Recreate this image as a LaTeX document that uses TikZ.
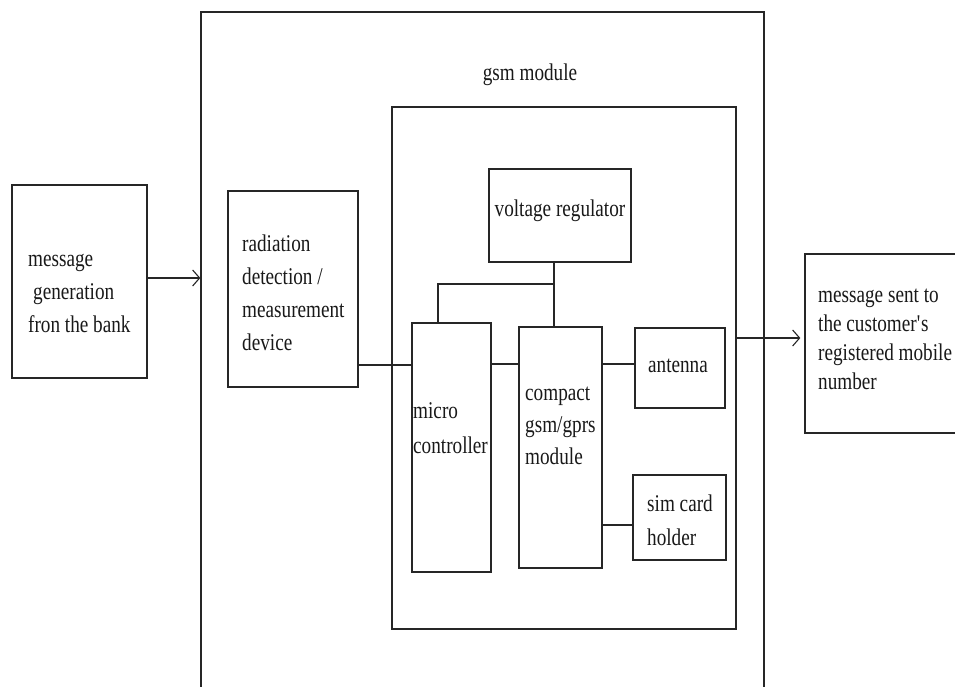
\documentclass[tikz,border=0pt]{standalone}
\usepackage{fontspec}
\setmainfont[FakeStretch=0.8]{Liberation Serif}
\usetikzlibrary{arrows.meta}
\begin{document}
\begin{tikzpicture}[x=1pt,y=-1pt,
  box/.style={draw=black!85, line width=1.3pt, inner sep=0pt, rectangle},
  txt/.style={font=\fontsize{24}{#1}\selectfont, align=left, inner sep=0pt, anchor=west, text=black!90},
  txt/.default=33,
  wire/.style={draw=black!85, line width=1.3pt},
  arr/.style={wire, -{Straight Barb[length=7pt,width=16pt,line width=1.1pt]}}]
\useasboundingbox (0,0) rectangle (955,686);
\fill[white] (0,0) rectangle (955,686);
% boxes
\node[box, minimum width=563pt, minimum height=700pt] (outer) at (482.5,362) {};
\node[box, minimum width=344pt, minimum height=522pt] (inner) at (564,368) {};
\node[box, minimum width=135pt, minimum height=193pt] (bank) at (79.5,281.5) {};
\node[box, minimum width=130pt, minimum height=196pt] (rad) at (293,289) {};
\node[box, minimum width=142pt, minimum height=93pt] (vr) at (560,215.5) {};
\node[box, minimum width=79pt, minimum height=249pt] (mc) at (451.5,447.5) {};
\node[box, minimum width=83pt, minimum height=241pt] (gsm) at (560.5,447.5) {};
\node[box, minimum width=90pt, minimum height=80pt] (ant) at (680,368) {};
\node[box, minimum width=93pt, minimum height=85pt] (sim) at (679.5,517.5) {};
\node[box, minimum width=165pt, minimum height=179pt] (out) at (887.5,343.5) {};
% texts
\node[txt, anchor=center] (lbl) at (530,75) {gsm module};
\node[txt] (tbank) at (28,293) {message\\\hspace{5pt}generation\\fron the bank};
\node[txt] (trad) at (242,293) {radiation\\detection /\\measurement\\device};
\node[txt, anchor=center] (tvr) at (560,211) {voltage regulator};
\node[txt=35] (tmc) at (413,428) {micro\\controller};
\node[txt=32] (tgsm) at (525,426) {compact\\gsm/gprs\\module};
\node[txt, anchor=center] (tant) at (678,366) {antenna};
\node[txt=34] (tsim) at (647,520) {sim card\\holder};
\node[txt=29] (tout) at (818,339) {message sent to\\the customer\textquotesingle s\\registered mobile\\number};
% level coordinates
\coordinate (l365) at (0,365);
\coordinate (l364) at (0,364);
\coordinate (l525) at (0,525);
\coordinate (l338) at (0,338);
\coordinate (l278) at (0,278);
\coordinate (bus) at (0,284);
\coordinate (tapA) at (554,0);
\coordinate (tapB) at (438,0);
% connectors
\draw[arr] (bank.east |- l278) -- (outer.west |- l278);
\draw[wire] (rad.east |- l365) -- (mc.west |- l365);
\draw[wire] (mc.east |- l364) -- (gsm.west |- l364);
\draw[wire] (gsm.east |- l364) -- (ant.west |- l364);
\draw[wire] (gsm.east |- l525) -- (sim.west |- l525);
\draw[wire] (vr.south -| tapA) -- (gsm.north -| tapA);
\draw[wire] (tapA |- bus) -- (tapB |- bus) -- (mc.north -| tapB);
\draw[arr] (inner.east |- l338) -- ([xshift=-4pt]out.west |- l338);
\end{tikzpicture}
\end{document}
